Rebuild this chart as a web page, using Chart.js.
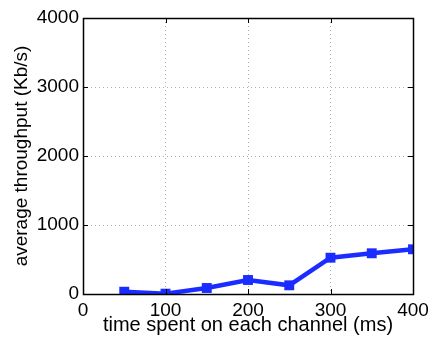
<!DOCTYPE html>
<html>
<head>
<meta charset="utf-8">
<script src="https://cdn.jsdelivr.net/npm/chart.js@4/dist/chart.umd.min.js"></script>
<style>
  html, body { margin: 0; padding: 0; background: #fff; }
  #wrap { width: 435px; height: 337px; position: relative; }
</style>
</head>
<body>
<div id="wrap"><canvas id="chartThroughput"></canvas></div>
<script>
// ---- data ----
const timeSpent = [50, 100, 150, 200, 250, 300, 350, 400];      // ms
const throughput = [33, 5, 87, 203, 126, 526, 590, 648];          // Kb/s
const xTicks = [0, 100, 200, 300, 400];
const yTicks = [0, 1000, 2000, 3000, 4000];

const FONT = 'Liberation Sans, Arial, Helvetica, sans-serif';

// box + inward tick marks, matlab style
const boxPlugin = {
    id: 'boxPlugin',
    afterDraw(chart) {
        const { ctx, chartArea: a, scales } = chart;
        const len = 5;
        ctx.save();
        ctx.strokeStyle = '#000';
        ctx.lineWidth = 1;
        ctx.beginPath();
        xTicks.forEach(v => {
            const px = Math.round(scales.x.getPixelForValue(v)) + 0.5;
            ctx.moveTo(px, a.bottom); ctx.lineTo(px, a.bottom - len);
            ctx.moveTo(px, a.top);    ctx.lineTo(px, a.top + len);
        });
        yTicks.forEach(v => {
            const py = Math.round(scales.y.getPixelForValue(v)) + 0.5;
            ctx.moveTo(a.left, py);  ctx.lineTo(a.left + len, py);
            ctx.moveTo(a.right, py); ctx.lineTo(a.right - len, py);
        });
        ctx.stroke();
        ctx.lineWidth = 1.5;
        ctx.strokeRect(Math.round(a.left) + 0.5, Math.round(a.top) + 0.5,
                       Math.round(a.right - a.left), Math.round(a.bottom - a.top));
        ctx.restore();
    }
};

const canvas = document.getElementById('chartThroughput');
new Chart(canvas.getContext('2d'), {
    type: 'line',
    data: {
        datasets: [{
            data: timeSpent.map((t, i) => ({ x: t, y: throughput[i] })),
            borderColor: '#1a2cff',
            backgroundColor: '#1a2cff',
            borderWidth: 4.5,
            pointStyle: 'rect',
            pointRadius: 7,
            pointBorderWidth: 0,
            tension: 0,
            fill: false
        }]
    },
    options: {
        responsive: true,
        maintainAspectRatio: false,
        animation: false,
        layout: { padding: { left: 0, right: 22, top: 18, bottom: 0 } },
        plugins: { legend: { display: false }, tooltip: { enabled: false } },
        scales: {
            x: {
                type: 'linear', min: 0, max: 400,
                afterBuildTicks: s => { s.ticks = xTicks.map(v => ({ value: v })); },
                afterFit: s => { s.height = 43; },
                grid: { color: '#b0b0b0', lineWidth: 1, drawTicks: false },
                border: { display: false, dash: [1, 3] },
                ticks: {
                    color: '#000', padding: 5, maxRotation: 0,
                    font: { family: FONT, size: 19 }, callback: v => String(v)
                },
                title: {
                    display: true, text: 'time spent on each channel (ms)', color: '#000',
                    padding: { top: -5, bottom: 0 }, font: { family: FONT, size: 20 }
                }
            },
            y: {
                type: 'linear', min: 0, max: 4000,
                afterBuildTicks: s => { s.ticks = yTicks.map(v => ({ value: v })); },
                afterFit: s => { s.width = 83; },
                grid: { color: '#b0b0b0', lineWidth: 1, drawTicks: false },
                border: { display: false, dash: [1, 3] },
                ticks: {
                    color: '#000', padding: 4,
                    font: { family: FONT, size: 19 }, callback: v => String(v)
                },
                title: {
                    display: true, text: 'average throughput (Kb/s)', color: '#000',
                    padding: { top: 10, bottom: 0 }, font: { family: FONT, size: 19 }
                }
            }
        }
    },
    plugins: [boxPlugin]
});
</script>
</body>
</html>
